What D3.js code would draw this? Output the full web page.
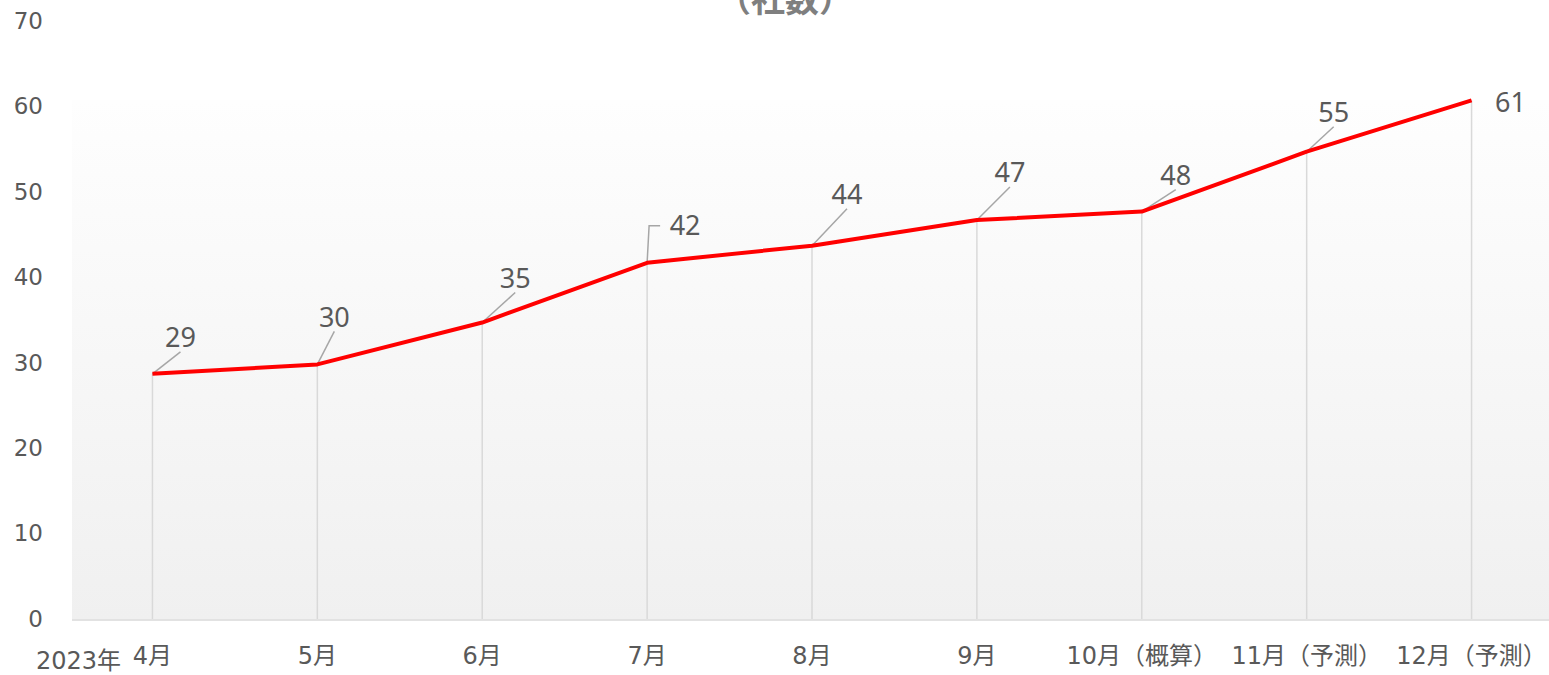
<!DOCTYPE html>
<html><head><meta charset="utf-8">
<script src="https://cdn.jsdelivr.net/npm/d3@7"></script>
<style>body{margin:0;background:#fff;overflow:hidden}</style>
</head><body>
<svg id="c" width="1549" height="675"></svg>
<script>
const categories = ["4月","5月","6月","7月","8月","9月","10月（概算）","11月（予測）","12月（予測）"];
const yearLabel = "2023年";
const values = [28.7, 29.8, 34.7, 41.7, 43.7, 46.7, 47.7, 54.7, 60.7];
const yTicks = [0,10,20,30,40,50,60,70];
const title = "（社数）";
// data-label offsets (dx, dy) relative to point, and leader style
const labelOffsets = [[28,-36],[17,-47],[33,-44],[38,-37],[35,-51],[33,-47],[34,-36],[27,-39],[39,2]];
const leaderType = ["diag","diag","diag","elbow","diag","diag","diag","diag","none"];

const svg = d3.select("#c");
const W = 1549, H = 675;
const x = d3.scaleBand().domain(categories).range([70, 1554]);
const y = d3.scaleLinear().domain([0,70]).range([619, 21]);
const cx = d => x(d) + x.bandwidth()/2;
const axisFont = "'DejaVu Sans','Noto Sans CJK JP'";

const defs = svg.append("defs");
const g = defs.append("linearGradient").attr("id","bg").attr("x1",0).attr("y1",0).attr("x2",0).attr("y2",1);
g.append("stop").attr("offset","0%").attr("stop-color","#fefefe");
g.append("stop").attr("offset","100%").attr("stop-color","#f0f0f0");
svg.append("rect").attr("x",72).attr("y",100).attr("width",W-72).attr("height",y(0)-100).attr("fill","url(#bg)");

// title
svg.append("text").attr("x",785).attr("y",12).attr("text-anchor","middle")
  .attr("font-family","'Noto Sans CJK JP'").attr("font-weight","bold").attr("font-size",34)
  .attr("fill","#7f7f7f").text(title);

// y axis labels
const yAxis = d3.axisLeft(y).tickValues(yTicks).tickSize(0).tickPadding(0);
const ya = svg.append("g").attr("transform","translate(43,0)").call(yAxis);
ya.select(".domain").remove();
ya.selectAll("text").attr("font-family",axisFont).attr("font-size",23).attr("fill","#595959");

// drop lines
svg.append("g").selectAll("line").data(categories).join("line")
  .attr("x1",d=>cx(d)).attr("x2",d=>cx(d))
  .attr("y1",(d,i)=>y(values[i])).attr("y2",y(0))
  .attr("stroke","#d9d9d9").attr("stroke-width",1.5);

// baseline
svg.append("line").attr("x1",72).attr("x2",W).attr("y1",y(0)+1).attr("y2",y(0)+1)
  .attr("stroke","#d9d9d9").attr("stroke-width",1.5);

// x axis labels
const xAxis = d3.axisBottom(x).tickSize(0).tickPadding(0);
const xa = svg.append("g").attr("transform",`translate(0,${y(0)+28})`).call(xAxis);
xa.select(".domain").remove();
xa.selectAll("text").attr("font-family",axisFont).attr("font-size",24).attr("fill","#595959");
svg.append("text").attr("x",121).attr("y",669).attr("text-anchor","end")
  .attr("font-family",axisFont).attr("font-size",24).attr("fill","#595959").text(yearLabel);

// leader lines
const leaders = svg.append("g").attr("stroke","#a6a6a6").attr("stroke-width",1.5).attr("fill","none");
categories.forEach((c,i)=>{
  const px = cx(c), py = y(values[i]);
  const [dx,dy] = labelOffsets[i];
  if (leaderType[i]==="diag") {
    leaders.append("line").attr("x1",px).attr("y1",py).attr("x2",px+dx).attr("y2",py+dy+14);
  } else if (leaderType[i]==="elbow") {
    leaders.append("path").attr("d",`M${px},${py}L${px+2},${py+dy}L${px+dx-25},${py+dy}`);
  }
});

// line
const line = d3.line().x((d,i)=>cx(categories[i])).y(d=>y(d));
svg.append("path").datum(values).attr("d",line).attr("fill","none")
  .attr("stroke","#ff0000").attr("stroke-width",4).attr("stroke-linejoin","round");

// data labels
svg.append("g").selectAll("text").data(values).join("text")
  .attr("x",(d,i)=>cx(categories[i])+labelOffsets[i][0])
  .attr("y",(d,i)=>y(d)+labelOffsets[i][1])
  .attr("dy","0.35em").attr("text-anchor","middle")
  .attr("font-family","'Noto Sans','DejaVu Sans'").attr("font-size",27).attr("fill","#595959")
  .text(d=>Math.round(d));
</script>
</body></html>
